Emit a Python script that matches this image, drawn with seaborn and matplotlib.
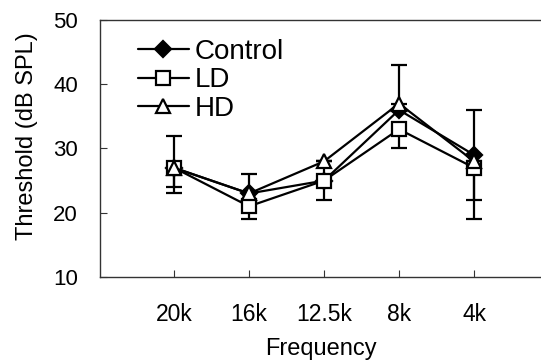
import numpy as np
import pandas as pd
import matplotlib
matplotlib.use("Agg")
import matplotlib.pyplot as plt
import seaborn as sns
from matplotlib.lines import Line2D

# Hearing thresholds per frequency
freqs = ["20k", "16k", "12.5k", "8k", "4k"]
control = [27, 23, 25, 36, 29]
ld = [27, 21, 25, 33, 27]
hd = [27, 23, 28, 37, 28]

# Error bars (lower, upper) per group
control_err_lo = [0, 0, 0, 0, 0]
control_err_hi = [5, 3, 3, 0, 7]
ld_err_lo = [3, 2, 3, 3, 5]
ld_err_hi = [0, 0, 0, 0, 0]
hd_err_lo = [4, 0, 0, 0, 9]
hd_err_hi = [0, 0, 0, 6, 0]

sns.set_theme(style="white")
plt.rcParams["font.family"] = ["Liberation Sans", "DejaVu Sans"]
plt.rcParams["text.color"] = "black"
plt.rcParams["axes.labelcolor"] = "black"
plt.rcParams["xtick.color"] = "black"
plt.rcParams["ytick.color"] = "black"

fig = plt.figure(figsize=(5.41, 3.64), dpi=100)
ax = fig.add_axes([100 / 541, 87 / 364, 441 / 541, 257 / 364])

pos = np.arange(len(freqs))
groups = [
    ("Control", control, control_err_lo, control_err_hi, "D", "black", 8),
    ("LD", ld, ld_err_lo, ld_err_hi, "s", "white", 10),
    ("HD", hd, hd_err_lo, hd_err_hi, "^", "white", 10.5),
]

for name, vals, lo, hi, mk, fc, ms in groups:
    ax.errorbar(pos, vals, yerr=[lo, hi], fmt="none", ecolor="black",
                elinewidth=1.6, capsize=5.5, capthick=1.6, zorder=2)

for name, vals, lo, hi, mk, fc, ms in groups:
    df = pd.DataFrame({"pos": pos, "value": vals})
    sns.lineplot(data=df, x="pos", y="value", ax=ax, color="black",
                 linewidth=1.6, marker=mk, markersize=ms,
                 markerfacecolor=fc, markeredgecolor="black",
                 markeredgewidth=1.6, zorder=3)

ax.set_xlim(-0.987, -0.987 + 441 / 75)
ax.set_ylim(10, 50)
ax.set_yticks([10, 20, 30, 40, 50])
ax.set_xticks(pos)
ax.set_xticklabels(freqs)
ax.tick_params(axis="x", direction="in", length=5, width=0.8, color="#333333",
               labelcolor="black", labelsize=16.5, pad=18.5, bottom=True)
ax.tick_params(axis="y", direction="in", length=5, width=0.8, color="#333333",
               labelcolor="black", labelsize=16, pad=16, left=True)
for side in ["left", "top", "bottom"]:
    ax.spines[side].set_color("#333333")
    ax.spines[side].set_linewidth(1.0)
ax.spines["right"].set_visible(False)
ax.grid(False)

ax.set_xlabel("Frequency", fontsize=17, labelpad=9)
ax.set_ylabel("Threshold (dB SPL)", fontsize=17)
ax.yaxis.set_label_coords(-0.14, 0.55)

handles = [
    Line2D([], [], color="black", linewidth=1.6, marker=mk, markersize=ms,
           markerfacecolor=fc, markeredgecolor="black", markeredgewidth=1.6)
    for name, vals, lo, hi, mk, fc, ms in groups
]
leg = ax.legend(handles, [g[0] for g in groups], loc="upper left",
                bbox_to_anchor=(132 / 541, 331 / 364), bbox_transform=fig.transFigure,
                fontsize=20, frameon=True, framealpha=1, facecolor="white",
                edgecolor="none", handlelength=1.85, handletextpad=0.22,
                labelspacing=0.1, borderpad=0.2, borderaxespad=0, fancybox=False)
leg.set_zorder(5)

fig.savefig("out.png", dpi=100)
